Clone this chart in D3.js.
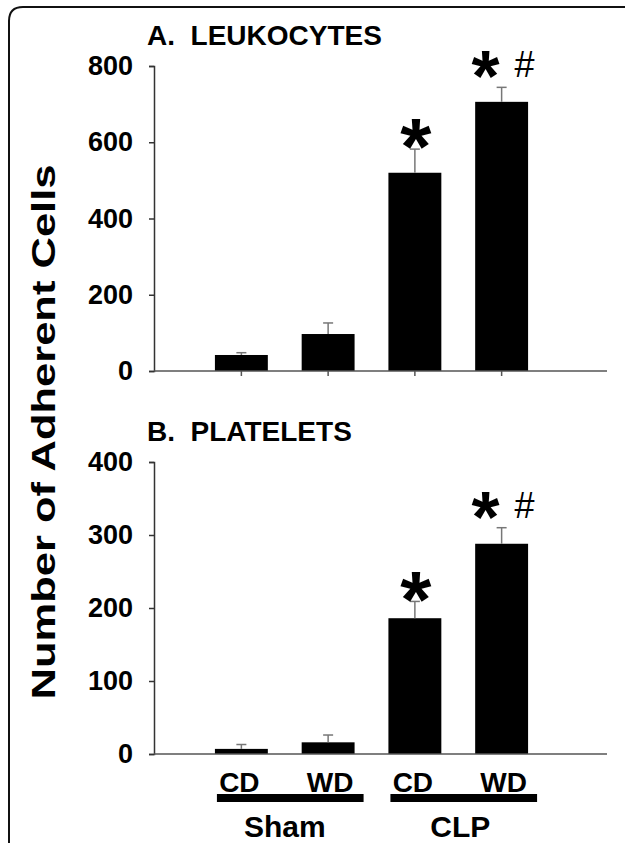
<!DOCTYPE html>
<html>
<head>
<meta charset="utf-8">
<script src="https://cdn.jsdelivr.net/npm/d3@7"></script>
<style>
  body { margin: 0; background: #fff; }
  svg text { font-family: "Liberation Sans", Arial, sans-serif; }
</style>
</head>
<body>
<div class="chart"></div>
<script>
// categories (two diets within each group)
var categories = ["CD", "WD", "CD", "WD"];
var groups = ["Sham", "CLP"];

// A. leukocytes
var leukoMean = [42, 97, 520, 706];
var leukoErr  = [6, 29, 62, 38];
var leukoTicks = [0, 200, 400, 600, 800];

// B. platelets
var plateMean = [7, 16, 186, 288];
var plateErr  = [6, 10, 23, 22];
var plateTicks = [0, 100, 200, 300, 400];

// significance marks
var stars  = ["", "", "*", "*"];
var hashes = ["", "", "", "#"];

var width = 625, height = 843;

var svg = d3.select("body .chart").append("svg")
    .attr("width", width).attr("height", height);

// frame (left + top with rounded corner)
svg.append("path")
    .attr("d", "M9,843 L9,21 Q9,7 23,7 L625,7")
    .attr("fill", "none").attr("stroke", "#111").attr("stroke-width", 2);

var x = d3.scaleBand()
    .domain(d3.range(categories.length))
    .range([198, 545])
    .paddingInner(0.39)
    .paddingOuter(0.195);

var axisLeft = 154, axisRight = 607;

function panel(cfg) {
    var y = d3.scaleLinear().domain([0, cfg.max]).range([cfg.bottom, cfg.top]);
    var g = svg.append("g");

    g.append("text")
        .attr("x", 147).attr("y", cfg.titleY)
        .attr("font-size", 28).attr("font-weight", "bold")
        .attr("xml:space", "preserve")
        .text(cfg.title);

    // y axis
    var yAxis = d3.axisLeft(y).tickValues(cfg.ticks).tickSize(5).tickPadding(16);
    var ya = g.append("g").attr("transform", "translate(" + axisLeft + ",0)").call(yAxis);
    ya.select(".domain").attr("stroke", "#333").attr("stroke-width", 1.5);
    ya.selectAll(".tick line").attr("stroke", "#333").attr("stroke-width", 1.5);
    ya.selectAll(".tick text").attr("font-size", 27).attr("font-weight", "bold")
        .attr("fill", "#000").attr("font-family", "Liberation Sans, Arial, sans-serif");

    // bars
    g.selectAll("rect.bar").data(cfg.mean).enter().append("rect")
        .attr("class", "bar")
        .attr("x", function (d, i) { return x(i); })
        .attr("width", x.bandwidth())
        .attr("y", function (d) { return y(d); })
        .attr("height", function (d) { return cfg.bottom - y(d); })
        .attr("fill", "#000");

    // error bars (upper only)
    var eb = g.selectAll("g.err").data(cfg.mean).enter().append("g").attr("class", "err")
        .attr("stroke", "#777").attr("stroke-width", 1.5);
    eb.append("line")
        .attr("x1", function (d, i) { return x(i) + x.bandwidth() / 2; })
        .attr("x2", function (d, i) { return x(i) + x.bandwidth() / 2; })
        .attr("y1", function (d) { return y(d); })
        .attr("y2", function (d, i) { return y(d + cfg.err[i]); });
    eb.append("line")
        .attr("x1", function (d, i) { return x(i) + x.bandwidth() / 2 - 5; })
        .attr("x2", function (d, i) { return x(i) + x.bandwidth() / 2 + 5; })
        .attr("y1", function (d, i) { return y(d + cfg.err[i]); })
        .attr("y2", function (d, i) { return y(d + cfg.err[i]); });

    // x axis line + ticks
    g.append("line")
        .attr("x1", axisLeft).attr("x2", axisRight)
        .attr("y1", cfg.bottom).attr("y2", cfg.bottom)
        .attr("stroke", "#555").attr("stroke-width", 1.5);
    if (cfg.xTicks) {
        g.selectAll("line.xt").data(categories).enter().append("line")
            .attr("class", "xt")
            .attr("x1", function (d, i) { return x(i) + x.bandwidth() / 2; })
            .attr("x2", function (d, i) { return x(i) + x.bandwidth() / 2; })
            .attr("y1", cfg.bottom).attr("y2", cfg.bottom + 5)
            .attr("stroke", "#555").attr("stroke-width", 1.5);
    }

    // marks
    g.selectAll("text.star").data(stars).enter().append("text")
        .attr("class", "star")
        .attr("text-anchor", "middle")
        .attr("font-weight", "bold")
        .attr("font-size", function (d, i) { return hashes[i] ? 72 : 80; })
        .attr("x", function (d, i) { return x(i) + x.bandwidth() / 2 + (hashes[i] ? -16 : 1); })
        .attr("y", function (d, i) {
            var cap = y(cfg.mean[i] + cfg.err[i]);
            return hashes[i] ? cap - 14 + 0.39 * 72 : cap - 6 + 0.39 * 80;
        })
        .text(function (d) { return d; });
    g.selectAll("text.hash").data(hashes).enter().append("text")
        .attr("class", "hash")
        .attr("text-anchor", "middle")
        .attr("font-size", 36)
        .attr("x", function (d, i) { return x(i) + x.bandwidth() / 2 + 23; })
        .attr("y", function (d, i) { return y(cfg.mean[i] + cfg.err[i]) - 10; })
        .text(function (d) { return d; });
}

panel({ title: "A.  LEUKOCYTES", titleY: 45, top: 66, bottom: 371, max: 800,
        ticks: leukoTicks, mean: leukoMean, err: leukoErr, xTicks: true });
panel({ title: "B.  PLATELETS", titleY: 441, top: 462, bottom: 754, max: 400,
        ticks: plateTicks, mean: plateMean, err: plateErr, xTicks: false });

// category labels
svg.selectAll("text.cat").data(categories).enter().append("text")
    .attr("class", "cat")
    .attr("text-anchor", "middle")
    .attr("font-size", 28).attr("font-weight", "bold")
    .attr("x", function (d, i) { return x(i) + x.bandwidth() / 2 - 2 + (i % 2) * 4; })
    .attr("y", 792)
    .text(function (d) { return d; });

// group bars + labels
svg.selectAll("rect.grp").data(groups).enter().append("rect")
    .attr("class", "grp")
    .attr("x", function (d, i) { return x(i * 2) + 2; })
    .attr("width", function (d, i) { return x(i * 2 + 1) + x.bandwidth() + 9 - x(i * 2) - 2; })
    .attr("y", 794).attr("height", 8)
    .attr("fill", "#000");
svg.selectAll("text.grp").data(groups).enter().append("text")
    .attr("class", "grp")
    .attr("text-anchor", "middle")
    .attr("font-size", 30).attr("font-weight", "bold")
    .attr("x", function (d, i) { return (x(i * 2) + x(i * 2 + 1) + x.bandwidth()) / 2 + (i ? 2 : 0); })
    .attr("y", 837)
    .text(function (d) { return d; });

// y axis title
svg.append("text")
    .attr("transform", "translate(55,432) rotate(-90)")
    .attr("text-anchor", "middle")
    .attr("font-size", 34).attr("font-weight", "bold")
    .attr("textLength", 535).attr("lengthAdjust", "spacingAndGlyphs")
    .text("Number of Adherent Cells");
</script>
</body>
</html>
